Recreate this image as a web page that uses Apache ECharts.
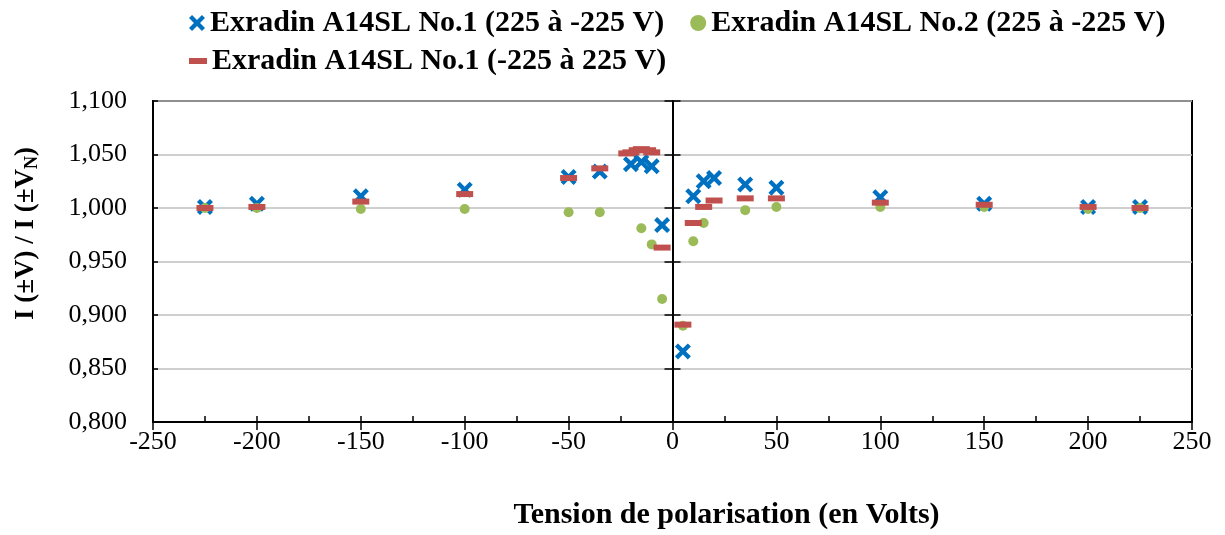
<!DOCTYPE html>
<html>
<head>
<meta charset="utf-8">
<script src="https://cdn.jsdelivr.net/npm/echarts@6/dist/echarts.min.js"></script>
<style>html,body{margin:0;padding:0;background:#fff;}#c{width:1225px;height:535px;}</style>
</head>
<body>
<div id="c"></div>
<script>
// ---- data ----
const seriesNames = [
  'Exradin A14SL No.1 (225 à -225 V)',
  'Exradin A14SL No.2 (225 à -225 V)',
  'Exradin A14SL No.1 (-225 à 225 V)'
];
const voltsNo1Down = [-225,-200,-150,-100,-50,-35,-20,-15,-10,-5,5,10,15,20,35,50,100,150,200,225];
const ratioNo1Down = [1.001,1.004,1.011,1.017,1.029,1.034,1.041,1.043,1.039,0.984,0.866,1.011,1.025,1.028,1.022,1.019,1.010,1.004,1.001,1.001];
const voltsNo2Down = [-225,-200,-150,-100,-50,-35,-15,-10,-5,5,10,15,35,50,100,150,200,225];
const ratioNo2Down = [1.000,1.000,0.999,0.999,0.996,0.996,0.981,0.966,0.915,0.890,0.969,0.986,0.998,1.001,1.001,1.001,0.999,1.000];
const voltsNo1Up = [-225,-200,-150,-100,-50,-35,-22,-20,-17,-15,-12,-10,-5,5,10,15,20,35,50,100,150,200,225];
const ratioNo1Up = [1.000,1.001,1.006,1.013,1.028,1.037,1.051,1.052,1.054,1.055,1.054,1.052,0.963,0.891,0.986,1.001,1.007,1.009,1.009,1.005,1.003,1.001,1.000];
const xTicks = {min:-250, max:250, interval:50};
const yTicks = {min:0.8, max:1.1, interval:0.05};
const xTitle = 'Tension de polarisation (en Volts)';

const zip = (a,b) => a.map((v,i)=>[v,b[i]]);
const FONT = 'Liberation Serif';
const xPath = 'path://M0,1.9L1.9,0L5,3.1L8.1,0L10,1.9L6.9,5L10,8.1L8.1,10L5,6.9L1.9,10L0,8.1L3.1,5Z';
const BLUE = '#0070C0', GREEN = '#9BBB59', RED = '#C0504D';
const legendText = {fontFamily:FONT, fontWeight:'bold', fontSize:30, color:'#000'};

const chart = echarts.init(document.getElementById('c'));
const xBase = {type:'value', min:xTicks.min, max:xTicks.max, position:'bottom', splitLine:{show:false}};
const yBase = {type:'value', min:yTicks.min, max:yTicks.max, interval:yTicks.interval};
chart.setOption({
  animation:false,
  backgroundColor:'#fff',
  grid:{left:153, right:33, top:101, bottom:107, show:true, borderColor:'#000', borderWidth:2},
  legend:[
    {data:[{name:seriesNames[0], icon:xPath, itemStyle:{color:BLUE, opacity:1}}, {name:seriesNames[1], icon:'circle', itemStyle:{opacity:1}}],
     left:184, top:3, itemGap:26, itemWidth:16, itemHeight:16, textStyle:legendText},
    {data:[{name:seriesNames[2], icon:'rect', itemStyle:{opacity:1}}],
     left:184, top:41, itemWidth:18, itemHeight:6, textStyle:legendText}
  ],
  xAxis:[
    Object.assign({}, xBase, {interval:xTicks.interval,
      axisLine:{onZero:false, lineStyle:{color:'#000', width:2}},
      axisTick:{length:8, lineStyle:{color:'#000', width:1.5}},
      axisLabel:{margin:7, fontFamily:FONT, fontSize:26, color:'#000'},
      name:xTitle, nameLocation:'middle', nameGap:78,
      nameTextStyle:{fontFamily:FONT, fontWeight:'bold', fontSize:30, color:'#000', padding:[0,0,0,108]}}),
    Object.assign({}, xBase, {interval:xTicks.interval/2,
      axisLine:{show:false}, axisLabel:{show:false},
      axisTick:{inside:true, length:6, lineStyle:{color:'#000', width:1.5}}})
  ],
  yAxis:[
    Object.assign({}, yBase, {position:'left',
      axisLine:{show:true, onZero:false, lineStyle:{color:'#000', width:2}},
      axisTick:{inside:true, length:5, lineStyle:{color:'#000', width:1.5}},
      axisLabel:{margin:26, fontFamily:FONT, fontSize:26, color:'#000',
        formatter:v=>v.toFixed(3).replace('.', ',')},
      splitLine:{show:true, lineStyle:{color:'#BFBFBF', width:1.5}},
      name:'{m|I (±V) / I (±V}{s|N}{m|)}', nameLocation:'middle', nameGap:112,
      nameTextStyle:{padding:[0,0,0,56], rich:{
        m:{fontFamily:FONT, fontWeight:'bold', fontSize:27, color:'#000'},
        s:{fontFamily:FONT, fontWeight:'bold', fontSize:18, color:'#000', padding:[12,0,0,0]}}}}),
    Object.assign({}, yBase, {position:'left', offset:-519.5,
      axisLine:{show:true, onZero:false, lineStyle:{color:'#000', width:2}},
      axisTick:{length:8, lineStyle:{color:'#000', width:1.5}},
      axisLabel:{show:false}, splitLine:{show:false}}),
    Object.assign({}, yBase, {position:'left', offset:-519.5,
      axisLine:{show:false},
      axisTick:{inside:true, length:8, lineStyle:{color:'#000', width:1.5}},
      axisLabel:{show:false}, splitLine:{show:false}})
  ],
  series:[
    {name:seriesNames[0], type:'scatter', data:zip(voltsNo1Down, ratioNo1Down),
     symbol:xPath, symbolSize:16, itemStyle:{color:BLUE, opacity:1}, z:3},
    {name:seriesNames[1], type:'scatter', data:zip(voltsNo2Down, ratioNo2Down),
     symbol:'circle', symbolSize:10, itemStyle:{color:GREEN, opacity:1}, z:4},
    {name:seriesNames[2], type:'scatter', data:zip(voltsNo1Up, ratioNo1Up),
     symbol:'rect', symbolSize:[17,6], itemStyle:{color:RED, opacity:1}, z:5}
  ]
});
</script>
</body>
</html>
